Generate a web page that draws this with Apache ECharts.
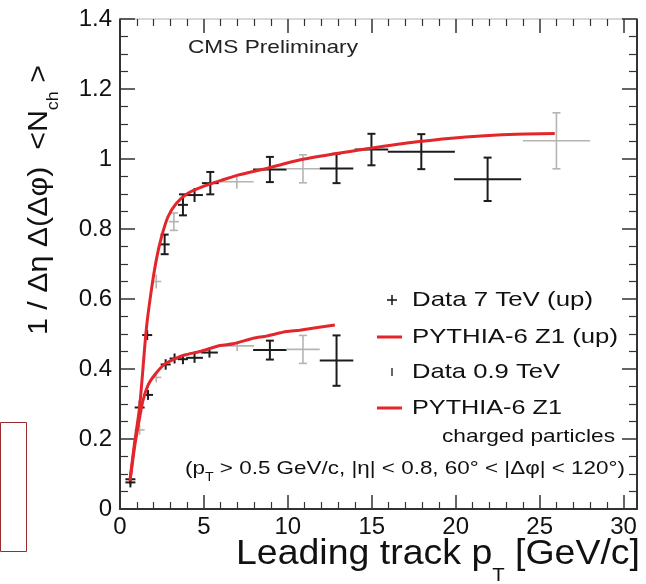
<!DOCTYPE html>
<html><head><meta charset="utf-8">
<script src="https://cdn.jsdelivr.net/npm/echarts@6/dist/echarts.min.js"></script>
<style>html,body{margin:0;padding:0;background:#fff}#c{width:646px;height:584px}</style>
</head><body><div id="c"></div>
<script>
// ---- data ----
const ptUp   = [0.62, 1.17, 1.62, 2.16, 2.66, 3.21, 3.75, 4.44, 5.38, 6.96, 8.93, 10.9, 12.9, 14.98, 17.95, 21.9, 26.0];
const valUp  = [0.085, 0.290, 0.497, 0.650, 0.756, 0.821, 0.869, 0.897, 0.931, 0.935, 0.970, 0.972, 0.973, 1.027, 1.021, 0.942, 1.052];
const exUp   = [0.25, 0.25, 0.25, 0.25, 0.25, 0.25, 0.25, 0.5, 0.5, 1, 1, 1, 1, 1, 2, 2, 2];
const eyUp   = [0.012, 0.02, 0.012, 0.02, 0.028, 0.025, 0.03, 0.02, 0.032, 0.02, 0.036, 0.04, 0.042, 0.045, 0.05, 0.062, 0.08];
const faintUp = [3, 5, 9, 11, 16];

const pt09   = [0.62, 1.17, 1.67, 2.16, 2.72, 3.25, 3.75, 4.44, 5.33, 6.98, 8.93, 10.9, 12.9];
const val09  = [0.076, 0.226, 0.326, 0.376, 0.413, 0.430, 0.428, 0.432, 0.447, 0.466, 0.454, 0.456, 0.424];
const ex09   = [0.25, 0.25, 0.25, 0.25, 0.25, 0.25, 0.25, 0.5, 0.5, 1, 1, 1, 1];
const ey09   = [0.012, 0.01, 0.008, 0.01, 0.015, 0.008, 0.012, 0.01, 0.014, 0.011, 0.027, 0.04, 0.072];
const faint09 = [1, 3, 9, 11];

const ptZ1Up  = [0.6, 0.87, 1.17, 1.57, 1.87, 2.16, 2.46, 2.86, 3.35, 4.05, 5.04, 6.23, 7.02, 8.73, 10.7, 12.7, 14.7, 17.7, 20.6, 23.6, 25.9];
const valZ1Up = [0.085, 0.19, 0.292, 0.515, 0.626, 0.711, 0.775, 0.835, 0.873, 0.902, 0.923, 0.942, 0.954, 0.973, 0.997, 1.014, 1.029, 1.049, 1.063, 1.071, 1.073];
const ptZ1    = [0.6, 0.87, 1.11, 1.37, 1.67, 2.06, 2.66, 3.3, 3.85, 4.76, 5.95, 6.75, 7.94, 8.73, 9.92, 10.7, 12.8];
const valZ1   = [0.08, 0.178, 0.245, 0.31, 0.354, 0.383, 0.414, 0.43, 0.44, 0.45, 0.467, 0.472, 0.488, 0.494, 0.507, 0.511, 0.526];

const xTicks = {min: 0, max: 30.8, interval: 5};
const yTicks = {min: 0, max: 1.4, interval: 0.2};

// ---- chart ----
const FONT = "'Liberation Sans', Arial, sans-serif";
const chart = echarts.init(document.getElementById('c'), null, {renderer: 'canvas'});

function pts(p, v, ex, ey, faint) {
  return p.map((x, i) => [x, v[i], ex[i], ey[i], faint.indexOf(i) >= 0 ? 1 : 0]);
}
function lineData(p, v) { return p.map((x, i) => [x, v[i]]); }

function renderErr(params, api) {
  const x = api.value(0), y = api.value(1), ex = api.value(2), ey = api.value(3), faint = api.value(4);
  const c = api.coord([x, y]);
  const l = api.coord([x - ex, y]), r = api.coord([x + ex, y]);
  const t = api.coord([x, y + ey]), b = api.coord([x, y - ey]);
  const color = faint ? '#b4b4b4' : '#1c1c1c';
  const lw = faint ? 1.6 : 2;
  const arm = 5;
  const x1 = Math.min(l[0], c[0] - arm), x2 = Math.max(r[0], c[0] + arm);
  const y1 = Math.min(t[1], c[1] - arm), y2 = Math.max(b[1], c[1] + arm);
  const st = {stroke: color, lineWidth: lw};
  const ch = [
    {type: 'line', shape: {x1: x1, y1: c[1], x2: x2, y2: c[1]}, style: st},
    {type: 'line', shape: {x1: c[0], y1: y1, x2: c[0], y2: y2}, style: st}
  ];
  if (c[1] - t[1] > 7) {
    ch.push({type: 'line', shape: {x1: c[0] - 4, y1: t[1], x2: c[0] + 4, y2: t[1]}, style: st});
    ch.push({type: 'line', shape: {x1: c[0] - 4, y1: b[1], x2: c[0] + 4, y2: b[1]}, style: st});
  }
  return {type: 'group', children: ch};
}

// text helpers: pieces [text, fontSize, dy]; stretched horizontally to the width seen in the reference
const mctx = document.createElement('canvas').getContext('2d');
function tw(text, size) { mctx.font = size + 'px ' + FONT; return mctx.measureText(text).width; }
function textGroup(pieces, opts) {
  const widths = pieces.map(p => tw(p[0], p[1]));
  const total = widths.reduce((a, b) => a + b, 0);
  const sx = opts.width ? opts.width / total : 1;
  let cx = opts.align === 'center' ? -total / 2 : (opts.align === 'right' ? -total : 0);
  const children = pieces.map((p, i) => {
    const el = {type: 'text', x: cx, y: p[2] || 0,
      style: {text: p[0], font: p[1] + 'px ' + FONT, fill: opts.fill || '#111', align: 'left', verticalAlign: 'middle'}};
    cx += widths[i];
    return el;
  });
  return {type: 'group', x: opts.x, y: opts.y, rotation: opts.rotation || 0, scaleX: sx, children: children};
}

const axisCommon = {
  axisLine: {show: true, onZero: false, lineStyle: {color: '#333', width: 2}},
  splitLine: {show: false}
};

const option = {
  backgroundColor: '#fff',
  animation: false,
  grid: {left: 120, right: 9, top: 19, bottom: 75, containLabel: false},
  xAxis: [
    Object.assign({}, axisCommon, {
      type: 'value', position: 'bottom', min: xTicks.min, max: xTicks.max, interval: xTicks.interval,
      axisTick: {inside: true, length: 14, lineStyle: {color: '#333', width: 1.5}},
      minorTick: {show: true, splitNumber: 5, length: 7, lineStyle: {color: '#333', width: 1.2}},
      axisLabel: {fontFamily: FONT, fontSize: 24, color: '#111', margin: 6, showMaxLabel: false}
    }),
    Object.assign({}, axisCommon, {
      type: 'value', position: 'top', min: xTicks.min, max: xTicks.max, interval: xTicks.interval,
      axisTick: {inside: true, length: 14, lineStyle: {color: '#333', width: 1.5}},
      minorTick: {show: true, splitNumber: 5, length: 7, lineStyle: {color: '#333', width: 1.2}},
      axisLabel: {show: false},
      axisLine: {show: true, onZero: false, lineStyle: {color: '#ccc', width: 1.5}}
    })
  ],
  yAxis: [
    Object.assign({}, axisCommon, {
      type: 'value', position: 'left', min: yTicks.min, max: yTicks.max, interval: yTicks.interval,
      axisTick: {inside: true, length: 15, lineStyle: {color: '#333', width: 1.5}},
      minorTick: {show: true, splitNumber: 4, length: 8, lineStyle: {color: '#333', width: 1.2}},
      axisLabel: {fontFamily: FONT, fontSize: 24, color: '#111', margin: 8}
    }),
    Object.assign({}, axisCommon, {
      type: 'value', position: 'right', min: yTicks.min, max: yTicks.max, interval: yTicks.interval,
      axisTick: {inside: true, length: 15, lineStyle: {color: '#333', width: 1.5}},
      minorTick: {show: true, splitNumber: 4, length: 8, lineStyle: {color: '#333', width: 1.2}},
      axisLabel: {show: false}
    })
  ],
  series: [
    {name: 'Data 7 TeV (up)', type: 'custom', renderItem: renderErr, data: pts(ptUp, valUp, exUp, eyUp, faintUp), z: 2,
     encode: {x: 0, y: 1}},
    {name: 'Data 0.9 TeV', type: 'custom', renderItem: renderErr, data: pts(pt09, val09, ex09, ey09, faint09), z: 2,
     encode: {x: 0, y: 1}},
    {name: 'PYTHIA-6 Z1 (up)', type: 'line', data: lineData(ptZ1Up, valZ1Up), smooth: 0.25, showSymbol: false,
     lineStyle: {color: '#e3262b', width: 3}, z: 3},
    {name: 'PYTHIA-6 Z1', type: 'line', data: lineData(ptZ1, valZ1), smooth: 0.25, showSymbol: false,
     lineStyle: {color: '#e3262b', width: 3}, z: 3}
  ],
  graphic: [
    {type: 'rect', shape: {x: 0.5, y: 422.5, width: 26, height: 129}, style: {fill: 'none', stroke: '#9a2b2b', lineWidth: 1}},
    textGroup([['CMS Preliminary', 19]], {x: 188, y: 48, width: 170, fill: '#222'}),
    // legend
    {type: 'line', shape: {x1: 387, y1: 300, x2: 397, y2: 300}, style: {stroke: '#111', lineWidth: 1.5}},
    {type: 'line', shape: {x1: 392, y1: 295, x2: 392, y2: 305}, style: {stroke: '#111', lineWidth: 1.5}},
    textGroup([['Data 7 TeV (up)', 21]], {x: 412, y: 300, width: 181}),
    {type: 'line', shape: {x1: 377, y1: 337, x2: 402, y2: 337}, style: {stroke: '#e3262b', lineWidth: 3}},
    textGroup([['PYTHIA-6 Z1 (up)', 21]], {x: 412, y: 337, width: 206}),
    {type: 'line', shape: {x1: 392, y1: 368, x2: 392, y2: 376}, style: {stroke: '#333', lineWidth: 1.5}},
    textGroup([['Data 0.9 TeV', 21]], {x: 412, y: 372, width: 148}),
    {type: 'line', shape: {x1: 377, y1: 408, x2: 402, y2: 408}, style: {stroke: '#e3262b', lineWidth: 3}},
    textGroup([['PYTHIA-6 Z1', 21]], {x: 412, y: 408, width: 150}),
    textGroup([['charged particles', 19]], {x: 615, y: 437, width: 173, align: 'right'}),
    textGroup([['(p', 19], ['T', 12, 9], [' > 0.5 GeV/c, |η| < 0.8, 60° < |Δφ| < 120°)', 19]],
              {x: 625, y: 469, width: 440, align: 'right'}),
    // axis titles
    textGroup([['Leading track p', 35], ['T', 19, 22], [' [GeV/c]', 35]], {x: 640, y: 554, width: 404, align: 'right'}),
    textGroup([['1 / Δη Δ(Δφ)  <N', 27], ['ch', 16, 14], [' >', 27]],
              {x: 40, y: 200, width: 270, align: 'center', rotation: Math.PI / 2})
  ]
};
chart.setOption(option);
</script>
</body></html>
